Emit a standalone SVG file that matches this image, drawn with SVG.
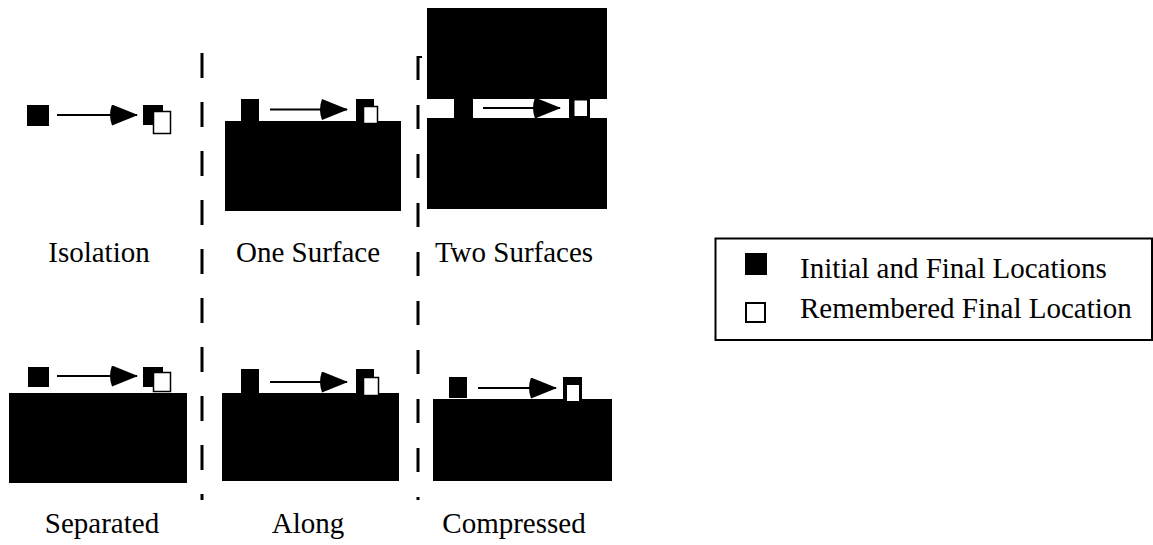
<svg xmlns="http://www.w3.org/2000/svg" width="1153" height="545" viewBox="0 0 1153 545">
<style>
  text { font-family: 'Liberation Serif', 'Times New Roman', Times, serif; font-size: 29px; fill: #000; }
  .blk { fill: #000; }
  .mem { fill: #fff; stroke: #000; stroke-width: 1.5; }
  .arr { stroke: #000; stroke-width: 2; fill: none; marker-end: url(#ah); }
  .sep { stroke: #000; stroke-width: 3; fill: none; }
</style>
<defs>
  <marker id="ah" viewBox="0 0 30 21" refX="29" refY="10.5" markerWidth="30" markerHeight="21" markerUnits="userSpaceOnUse" orient="auto">
    <path d="M4,0 L30,10.5 L4,21 Q0,10.5 4,0 Z" fill="#000"/>
  </marker>
</defs>
<rect width="1153" height="545" fill="#fff"/>

<g id="separators">
  <line class="sep" x1="202" y1="53" x2="202" y2="500" stroke-dasharray="25 24"/>
  <line class="sep" x1="418" y1="56" x2="418" y2="500" stroke-dasharray="24 25"/>
  <rect x="418" y="56" width="4" height="2" fill="#000"/>
</g>

<g id="isolation">
  <rect class="blk" x="27" y="105" width="22" height="21"/>
  <rect class="blk" x="143" y="105" width="20" height="20"/>
  <rect class="mem" x="153.5" y="111.5" width="17" height="22"/>
  <text x="99" y="262" text-anchor="middle">Isolation</text>
</g>

<g id="one-surface">
  <rect class="blk" x="225" y="121" width="176" height="90"/>
  <rect class="blk" x="241" y="99" width="18" height="22"/>
  <rect class="blk" x="356" y="99" width="18" height="22"/>
  <rect class="mem" x="363.5" y="106.5" width="14" height="17"/>
  <text x="308" y="262" text-anchor="middle">One Surface</text>
</g>

<g id="two-surfaces">
  <rect class="blk" x="427" y="8" width="180" height="91"/>
  <rect class="blk" x="427" y="118" width="180" height="91"/>
  <rect class="blk" x="454" y="99" width="19" height="19"/>
  <rect class="blk" x="569" y="99" width="21" height="19"/>
  <rect x="574.5" y="100.5" width="12.5" height="15.5" fill="#fff"/>
  <text x="514" y="262" text-anchor="middle">Two Surfaces</text>
</g>

<g id="separated">
  <rect class="blk" x="9" y="393" width="178" height="90"/>
  <rect class="blk" x="28" y="367" width="21" height="20"/>
  <rect class="blk" x="143" y="367" width="20" height="20"/>
  <rect class="mem" x="153.5" y="372.5" width="17" height="19"/>
  <text x="102" y="533" text-anchor="middle">Separated</text>
</g>

<g id="along">
  <rect class="blk" x="222" y="393" width="177" height="88"/>
  <rect class="blk" x="241" y="369" width="18" height="24"/>
  <rect class="blk" x="356" y="369" width="18" height="24"/>
  <rect class="mem" x="363.5" y="377.5" width="15" height="18"/>
  <text x="308" y="533" text-anchor="middle">Along</text>
</g>

<g id="compressed">
  <rect class="blk" x="433" y="399" width="179" height="82"/>
  <rect class="blk" x="449" y="377" width="18" height="21"/>
  <rect class="blk" x="563" y="377" width="19" height="22"/>
  <rect x="566.5" y="384.5" width="13" height="17" fill="#fff" stroke="#000" stroke-width="1"/>
  <text x="514" y="533" text-anchor="middle">Compressed</text>
</g>

<g id="connectors">
  <line class="arr" x1="57" y1="115" x2="137" y2="115"/>
  <line class="arr" x1="270" y1="109.5" x2="347" y2="109.5"/>
  <line class="arr" x1="483" y1="108" x2="560" y2="108"/>
  <line class="arr" x1="57" y1="376" x2="137" y2="376"/>
  <line class="arr" x1="270" y1="382" x2="347" y2="382"/>
  <line class="arr" x1="478" y1="388" x2="556" y2="388"/>
</g>

<g id="legend">
  <rect x="715.5" y="238.5" width="436.5" height="101.5" fill="none" stroke="#000" stroke-width="2"/>
  <rect class="blk" x="745" y="253" width="22" height="22"/>
  <rect x="746" y="303" width="19" height="19" fill="#fff" stroke="#000" stroke-width="2"/>
  <text x="800" y="278">Initial and Final Locations</text>
  <text x="800" y="318">Remembered Final Location</text>
</g>
</svg>
